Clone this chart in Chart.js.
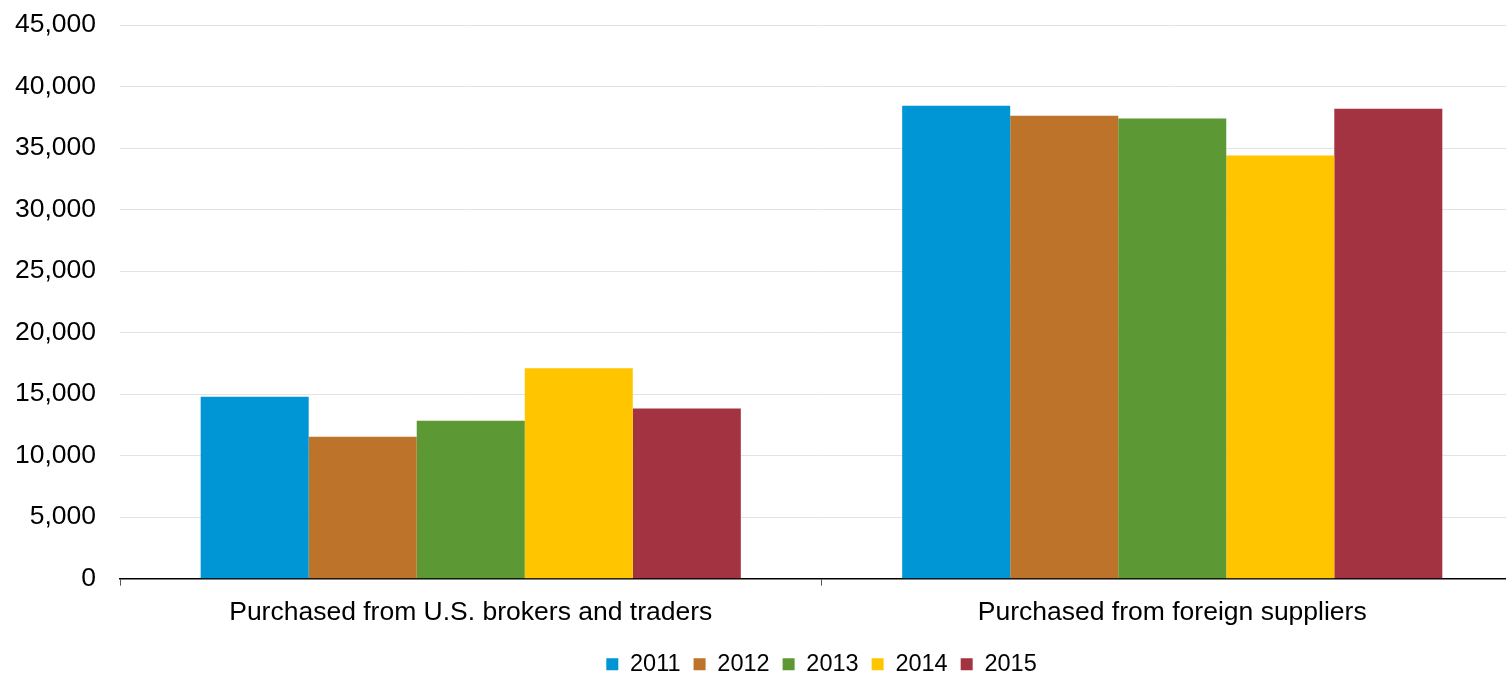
<!DOCTYPE html>
<html>
<head>
<meta charset="utf-8">
<script src="https://cdn.jsdelivr.net/npm/chart.js@4"></script>
<style>
    html, body { margin: 0; padding: 0; background: #fff; overflow: hidden; }
    #wrap { position: relative; width: 1523px; height: 686px; }
</style>
</head>
<body>
<div id="wrap"><canvas id="purchaseChart"></canvas></div>
<script>
// Data
const categories = ['Purchased from U.S. brokers and traders', 'Purchased from foreign suppliers'];
const years = ['2011', '2012', '2013', '2014', '2015'];
const values2011 = [14790, 38430];
const values2012 = [11540, 37620];
const values2013 = [12840, 37400];
const values2014 = [17110, 34400];
const values2015 = [13840, 38190];
const yTicks = [0, 5000, 10000, 15000, 20000, 25000, 30000, 35000, 40000, 45000];

const colors = ['#0096D6', '#BD732A', '#5C9834', '#FFC600', '#A33340'];
const seriesValues = [values2011, values2012, values2013, values2014, values2015];

const datasets = years.map((year, i) => ({
    label: year,
    data: seriesValues[i],
    backgroundColor: colors[i],
    borderWidth: 0,
    barPercentage: 1,
    categoryPercentage: 0.77
}));

const fontFamily = 'Liberation Sans, Arial, sans-serif';

const ctx = document.getElementById('purchaseChart').getContext('2d');
new Chart(ctx, {
    type: 'bar',
    data: { labels: categories, datasets: datasets },
    options: {
        responsive: true,
        maintainAspectRatio: false,
        animation: false,
        layout: { padding: { left: 0, top: 25, right: 0, bottom: 0 } },
        plugins: {
            legend: {
                position: 'bottom',
                fullSize: false,
                labels: {
                    color: '#000',
                    boxWidth: 12,
                    boxHeight: 12,
                    padding: 13,
                    font: { size: 23.5, family: fontFamily }
                }
            },
            tooltip: { enabled: false }
        },
        scales: {
            y: {
                min: 0,
                max: 45000,
                afterBuildTicks: function(axis) {
                    axis.ticks = yTicks.map(v => ({ value: v }));
                },
                afterFit: function(axis) {
                    // plot area starts at x=120, top at y=25 like the reference
                    axis.width = 120;
                    axis.paddingTop = 0;
                },
                border: { display: false },
                grid: { color: '#e3e3e3', lineWidth: 1, drawTicks: false },
                ticks: {
                    color: '#000',
                    padding: 24,
                    font: { size: 26.5, family: fontFamily },
                    callback: function(value) {
                        return value.toLocaleString('en-US');
                    }
                }
            },
            x: {
                border: { display: true, color: '#000', width: 1.5 },
                grid: { display: true, drawOnChartArea: false, color: '#555', tickLength: 7 },
                ticks: {
                    color: '#000',
                    padding: 11,
                    maxRotation: 0,
                    font: { size: 26.5, family: fontFamily }
                }
            }
        }
    }
});
</script>
</body>
</html>
